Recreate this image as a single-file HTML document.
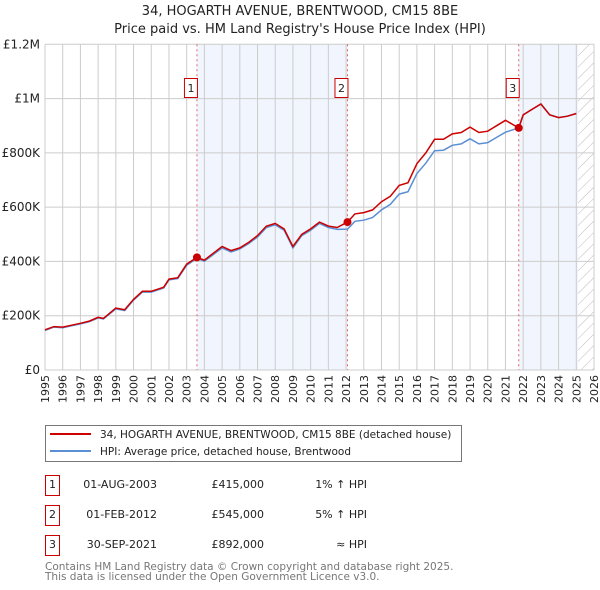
<!DOCTYPE html>
<html><head><meta charset="utf-8"><style>
body{margin:0;background:#fff;font-family:"Liberation Sans","DejaVu Sans",sans-serif;}
svg{display:block}
</style></head><body>
<svg width="600" height="590" xmlns="http://www.w3.org/2000/svg" font-family="DejaVu Sans, Liberation Sans, sans-serif">
<defs><pattern id="hatch" width="8" height="8" patternUnits="userSpaceOnUse" patternTransform="rotate(45)"><line x1="0" y1="0" x2="0" y2="8" stroke="#bbb" stroke-width="1"/></pattern></defs>
<text x="300" y="15" text-anchor="middle" font-size="13" fill="#222">34, HOGARTH AVENUE, BRENTWOOD, CM15 8BE</text>
<text x="300" y="33" text-anchor="middle" font-size="13" fill="#222">Price paid vs. HM Land Registry's House Price Index (HPI)</text>
<g id="plot"></g>
<g id="legend">
<rect x="45.5" y="425.5" width="416" height="36" fill="#fff" stroke="#777"/>
<line x1="50" y1="434" x2="91" y2="434" stroke="#cc0000" stroke-width="2"/>
<text x="100" y="438" font-size="10.5" fill="#222">34, HOGARTH AVENUE, BRENTWOOD, CM15 8BE (detached house)</text>
<line x1="50" y1="451" x2="91" y2="451" stroke="#5b8fd4" stroke-width="2"/>
<text x="100" y="455" font-size="10.5" fill="#222">HPI: Average price, detached house, Brentwood</text>
</g>
<g font-size="11" fill="#222">
<rect x="45.5" y="475.5" width="14" height="20" fill="#fff" stroke="#cc0000"/><text x="52.5" y="488" text-anchor="middle">1</text>
<text x="157" y="488" text-anchor="end">01-AUG-2003</text><text x="264" y="488" text-anchor="end">£415,000</text><text x="367" y="488" text-anchor="end">1% ↑ HPI</text>
<rect x="45.5" y="505.5" width="14" height="20" fill="#fff" stroke="#cc0000"/><text x="52.5" y="518" text-anchor="middle">2</text>
<text x="157" y="518" text-anchor="end">01-FEB-2012</text><text x="264" y="518" text-anchor="end">£545,000</text><text x="367" y="518" text-anchor="end">5% ↑ HPI</text>
<rect x="45.5" y="535.5" width="14" height="20" fill="#fff" stroke="#cc0000"/><text x="52.5" y="548" text-anchor="middle">3</text>
<text x="157" y="548" text-anchor="end">30-SEP-2021</text><text x="264" y="548" text-anchor="end">£892,000</text><text x="367" y="548" text-anchor="end">≈ HPI</text>
</g>
<text x="45" y="570" font-size="10.5" fill="#777">Contains HM Land Registry data © Crown copyright and database right 2025.</text>
<text x="45" y="580" font-size="10.5" fill="#777">This data is licensed under the Open Government Licence v3.0.</text>
</svg>
<script>
const years=[1995,1995.5,1996,1996.5,1997,1997.5,1998,1998.3,1999,1999.5,2000,2000.5,2001,2001.7,2002,2002.5,2003,2003.58,2004,2004.5,2005,2005.5,2006,2006.5,2007,2007.5,2008,2008.5,2009,2009.5,2010,2010.5,2011,2011.5,2012.08,2012.5,2013,2013.5,2014,2014.5,2015,2015.5,2016,2016.5,2017,2017.5,2018,2018.5,2019,2019.5,2020,2020.5,2021,2021.75,2022,2022.5,2023,2023.5,2024,2024.5,2025];
const priceK=[148,160,158,165,172,180,194,190,228,222,260,290,290,305,335,340,390,415,405,430,455,440,450,470,495,530,540,520,455,500,520,545,530,525,545,575,580,590,620,640,680,690,760,800,850,850,870,875,895,875,880,900,920,892,940,960,980,940,930,935,945];
const hpiK=[146,158,156,163,170,178,192,188,225,219,257,287,287,302,332,337,386,411,401,425,450,435,446,466,490,525,535,515,450,495,515,540,525,518,519,548,552,562,590,610,648,657,724,762,808,810,828,833,852,833,838,857,876,892,940,960,980,940,930,935,945];
const sales=[[2003.58,415],[2012.08,545],[2021.75,892]];
const yTicks=[0,200,400,600,800,1000,1200];
const yTickLabels=['£0','£200K','£400K','£600K','£800K','£1M','£1.2M'];
const L=45,R=594,T=44.3,B=370;
const X=y=>L+(y-1995)*(R-L)/31;
const Y=v=>B-v*(B-T)/1200;
const g=document.getElementById('plot');
const NS='http://www.w3.org/2000/svg';
function mk(t,a){const e=document.createElementNS(NS,t);for(const k in a)e.setAttribute(k,a[k]);g.appendChild(e);return e;}
let e;
e=mk('rect',{x:X(2003.58),y:T,width:X(2012.08)-X(2003.58),height:B-T,fill:'#eef3fc',opacity:0.8});


e=mk('rect',{x:X(2021.75),y:T,width:X(2025.1)-X(2021.75),height:B-T,fill:'#eef3fc',opacity:0.8});


e=mk('rect',{x:X(2025.1),y:T,width:R-X(2025.1),height:B-T,fill:'url(#hatch)'});


for(let yr=1995;yr<=2026;yr++){
 e=mk('line',{x1:X(yr),x2:X(yr),y1:T,y2:B,stroke:'#ccc','stroke-width':1});
 
 
 const t=mk('text',{transform:`translate(${X(yr)+4},${B+5}) rotate(-90)`,'text-anchor':'end','font-size':11,fill:'#222'});
 t.textContent=yr;
 
 
}
yTicks.forEach((v,i)=>{
 e=mk('line',{x1:L,x2:R,y1:Y(v),y2:Y(v),stroke:'#ccc','stroke-width':1});
 
 
 const t=mk('text',{x:L-5,y:Y(v)+4,'text-anchor':'end','font-size':12,fill:'#222'});
 t.textContent=yTickLabels[i];
 
 
});
sales.forEach((s,i)=>{
 e=mk('line',{x1:X(s[0]),x2:X(s[0]),y1:T,y2:B,stroke:'#e06666','stroke-width':1,'stroke-dasharray':'2,3'});
 
 
});
const pts=a=>years.map((y,i)=>X(y).toFixed(1)+','+Y(a[i]).toFixed(1)).join(' ');
e=mk('polyline',{points:pts(hpiK),fill:'none',stroke:'#5b8fd4','stroke-width':1.5});


e=mk('polyline',{points:pts(priceK),fill:'none',stroke:'#cc0000','stroke-width':1.5});


sales.forEach((s,i)=>{
 e=mk('circle',{cx:X(s[0]),cy:Y(s[1]),r:4,fill:'#cc0000'});
 
 
 const bx=X(s[0])-13;
 e=mk('rect',{x:bx+0.5,y:78.5,width:13,height:19,fill:'#fff',stroke:'#cc0000'});
 
 
 const t=mk('text',{x:bx+7,y:92,'text-anchor':'middle','font-size':11,fill:'#222'});
 t.textContent=i+1;
 
 
});
</script>
</body></html>
